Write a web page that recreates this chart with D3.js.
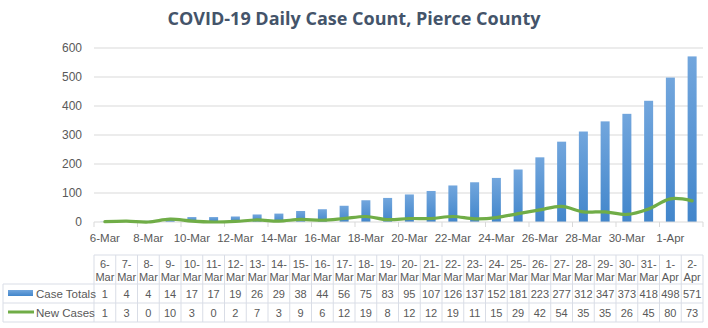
<!DOCTYPE html>
<html>
<head>
<meta charset="utf-8">
<script src="https://cdn.jsdelivr.net/npm/d3@7"></script>
<style>
  body { margin: 0; background: #fff; }
  text { font-family: "Liberation Sans", Arial, sans-serif; fill: #595959; }
</style>
</head>
<body>
<div id="chart"></div>
<script>
const dates = ["6-Mar","7-Mar","8-Mar","9-Mar","10-Mar","11-Mar","12-Mar","13-Mar","14-Mar","15-Mar",
  "16-Mar","17-Mar","18-Mar","19-Mar","20-Mar","21-Mar","22-Mar","23-Mar","24-Mar","25-Mar",
  "26-Mar","27-Mar","28-Mar","29-Mar","30-Mar","31-Mar","1-Apr","2-Apr"];
const caseTotals = [1,4,4,14,17,17,19,26,29,38,44,56,75,83,95,107,126,137,152,181,223,277,312,347,373,418,498,571];
const newCases = [1,3,0,10,3,0,2,7,3,9,6,12,19,8,12,12,19,11,15,29,42,54,35,35,26,45,80,73];
const yTicks = [0,100,200,300,400,500,600];

function drawChart(id) {
  let width = 708, height = 328;
  let left = 94, right = 703, top = 48, bottom = 222;

  let svg = d3.select(`#${id}`).append("svg").attr("width", width).attr("height", height);

  let defs = svg.append("defs");
  let grad = defs.append("linearGradient").attr("id", "barGrad")
    .attr("x1", 0).attr("y1", 0).attr("x2", 0).attr("y2", 1);
  grad.append("stop").attr("offset", "0%").attr("stop-color", "#72a6dd");
  grad.append("stop").attr("offset", "100%").attr("stop-color", "#4286cb");

  let x = d3.scaleBand().domain(dates).range([left, right]);
  let y = d3.scaleLinear().domain([0, 600]).range([bottom, top]);

  // title
  svg.append("text")
    .attr("x", 354).attr("y", 25)
    .attr("text-anchor", "middle")
    .style("font-family", "'Open Sans', sans-serif")
    .style("font-size", "18px").style("font-weight", "bold")
    .style("fill", "#44546a")
    .text("COVID-19 Daily Case Count, Pierce County");

  // gridlines
  svg.append("g").selectAll("line").data(yTicks.slice(1)).join("line")
    .attr("x1", left).attr("x2", right)
    .attr("y1", d => y(d)).attr("y2", d => y(d))
    .attr("stroke", "#d9d9d9").attr("stroke-width", 1);

  // y axis labels
  let yAxis = svg.append("g").attr("transform", `translate(${left},0)`)
    .call(d3.axisLeft(y).tickValues(yTicks).tickSize(0).tickPadding(12));
  yAxis.select(".domain").remove();
  yAxis.selectAll("text").style("font-size", "12px").style("fill", "#595959");

  // bars
  let bw = 9;
  svg.append("g").selectAll("rect").data(caseTotals).join("rect")
    .attr("x", (d, i) => x(dates[i]) + x.bandwidth()/2 - bw/2)
    .attr("width", bw)
    .attr("y", d => y(d))
    .attr("height", d => y(0) - y(d))
    .attr("fill", "url(#barGrad)");

  // x axis
  svg.append("line").attr("x1", left).attr("x2", right).attr("y1", bottom).attr("y2", bottom)
    .attr("stroke", "#d9d9d9");
  let tickIdx = d3.range(0, dates.length + 1, 2);
  svg.append("g").selectAll("line").data(tickIdx).join("line")
    .attr("x1", i => left + i * x.step()).attr("x2", i => left + i * x.step())
    .attr("y1", bottom).attr("y2", bottom + 5)
    .attr("stroke", "#d9d9d9");
  svg.append("g").selectAll("text").data(dates.filter((d, i) => i % 2 === 0)).join("text")
    .attr("x", d => x(d) + x.bandwidth()/2)
    .attr("y", 242)
    .attr("text-anchor", "middle")
    .style("font-size", "11.5px")
    .text(d => d);

  // line
  let line = d3.line()
    .x((d, i) => x(dates[i]) + x.bandwidth()/2)
    .y(d => y(d))
    .curve(d3.curveCatmullRom.alpha(0.5));
  svg.append("path").datum(newCases)
    .attr("d", line)
    .attr("fill", "none")
    .attr("stroke", "#70ad47")
    .attr("stroke-width", 3.2)
    .attr("stroke-linecap", "round");

  // data table
  let tTop = 255, hRow = 284, r1 = 303, r2 = 322, tLeft = 3;
  let fs = "11px";
  let tg = svg.append("g");
  let gridColor = "#d9dde6";
  // horizontal lines
  tg.append("line").attr("x1", left).attr("x2", right).attr("y1", tTop).attr("y2", tTop).attr("stroke", gridColor);
  [hRow, r1, r2].forEach(yy => {
    tg.append("line").attr("x1", tLeft).attr("x2", right).attr("y1", yy).attr("y2", yy).attr("stroke", gridColor);
  });
  // vertical lines
  d3.range(dates.length + 1).forEach(i => {
    let xx = left + i * x.step();
    tg.append("line").attr("x1", xx).attr("x2", xx).attr("y1", tTop).attr("y2", r2).attr("stroke", gridColor);
  });
  tg.append("line").attr("x1", tLeft).attr("x2", tLeft).attr("y1", hRow).attr("y2", r2).attr("stroke", gridColor);

  // header
  dates.forEach(d => {
    let parts = d.split("-");
    let cx = x(d) + x.bandwidth()/2;
    tg.append("text").attr("x", cx).attr("y", 268).attr("text-anchor", "middle")
      .style("font-size", fs).text(parts[0] + "-");
    tg.append("text").attr("x", cx).attr("y", 281).attr("text-anchor", "middle")
      .style("font-size", fs).text(parts[1]);
  });
  // values
  caseTotals.forEach((v, i) => {
    tg.append("text").attr("x", x(dates[i]) + x.bandwidth()/2).attr("y", 298)
      .attr("text-anchor", "middle").style("font-size", fs).text(v);
  });
  newCases.forEach((v, i) => {
    tg.append("text").attr("x", x(dates[i]) + x.bandwidth()/2).attr("y", 317)
      .attr("text-anchor", "middle").style("font-size", fs).text(v);
  });
  // legend keys
  tg.append("rect").attr("x", 8).attr("y", 290).attr("width", 25).attr("height", 6).attr("fill", "url(#barGrad)");
  tg.append("text").attr("x", 36).attr("y", 298).style("font-size", "11.5px").text("Case Totals");
  tg.append("line").attr("x1", 8).attr("x2", 34).attr("y1", 312).attr("y2", 312)
    .attr("stroke", "#70ad47").attr("stroke-width", 3);
  tg.append("text").attr("x", 36).attr("y", 317).style("font-size", "11.5px").text("New Cases");
}

drawChart("chart");
</script>
</body>
</html>
